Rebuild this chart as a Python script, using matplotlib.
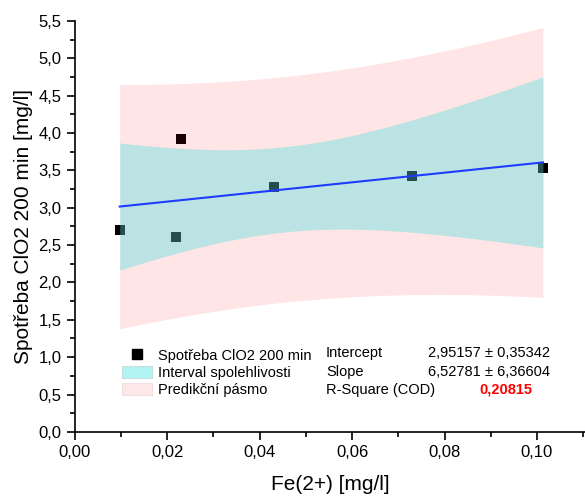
import numpy as np
import matplotlib.pyplot as plt
from matplotlib.patches import Patch
from matplotlib.lines import Line2D
from matplotlib.ticker import MultipleLocator, FuncFormatter

plt.rcParams['font.family'] = ['Liberation Sans', 'DejaVu Sans']

# Fe(2+) vs. ClO2 consumption after 200 min
fe2 = np.array([0.0097, 0.0229, 0.0219, 0.0431, 0.0730, 0.1013])
clo2 = np.array([2.70, 3.92, 2.61, 3.28, 3.43, 3.53])

fit_labels = ["Intercept", "Slope", "R-Square (COD)"]
fit_values = ["2,95157 \u00b1 0,35342", "6,52781 \u00b1 6,36604", "0,20815"]

T95 = 2.7764451  # Student t, 95 %, 4 dof

# linear fit with confidence / prediction bands
n = len(fe2)
slope, intercept = np.polyfit(fe2, clo2, 1)
resid = clo2 - (intercept + slope * fe2)
s = np.sqrt(np.sum(resid ** 2) / (n - 2))
sxx = np.sum((fe2 - fe2.mean()) ** 2)
xx = np.linspace(fe2.min(), fe2.max(), 200)
yy = intercept + slope * xx
conf = T95 * s * np.sqrt(1 / n + (xx - fe2.mean()) ** 2 / sxx)
pred = T95 * s * np.sqrt(1 + 1 / n + (xx - fe2.mean()) ** 2 / sxx)

fig = plt.figure(figsize=(5.85, 4.97), dpi=100)
ax = fig.add_axes([0.128, 0.131, 0.872, 0.827])

ax.scatter(fe2, clo2, marker='s', s=42, color='black', zorder=1, linewidths=0)
ax.fill_between(xx, yy - pred, yy + pred, color='red', alpha=0.1, lw=0, zorder=2)
ax.fill_between(xx, yy - conf, yy + conf, color='#40e0e0', alpha=0.35, lw=0, zorder=3)
ax.plot(xx, yy, color='#1e3cff', lw=1.5, zorder=4)

ax.set_xlim(0, 0.1104)
ax.set_ylim(0, 5.5)
ax.xaxis.set_major_locator(MultipleLocator(0.02))
ax.xaxis.set_minor_locator(MultipleLocator(0.01))
ax.yaxis.set_major_locator(MultipleLocator(0.5))
ax.yaxis.set_minor_locator(MultipleLocator(0.25))
ax.xaxis.set_major_formatter(FuncFormatter(lambda v, p: f"{v:.2f}".replace('.', ',')))
ax.yaxis.set_major_formatter(FuncFormatter(lambda v, p: f"{v:.1f}".replace('.', ',')))
ax.tick_params(which='major', length=6, width=1.2, labelsize=12, pad=3.5)
ax.tick_params(which='minor', length=3.5, width=1.2)
for side in ('top', 'right'):
    ax.spines[side].set_visible(False)
for side in ('left', 'bottom'):
    ax.spines[side].set_linewidth(1.2)

ax.set_xlabel("Fe(2+) [mg/l]", fontsize=15, labelpad=10.5)
ax.set_ylabel("Spotřeba ClO2 200 min [mg/l]", fontsize=15, labelpad=4)

handles = [
    Line2D([], [], marker='s', color='black', ls='none', markersize=6.5),
    Patch(facecolor='#b0f4f4', edgecolor='#c8dede', lw=0.8),
    Patch(facecolor='#fde8e8', edgecolor='#f4dede', lw=0.8),
]
labels = ["Spotřeba ClO2 200 min", "Interval spolehlivosti", "Predikční pásmo"]
ax.legend(handles, labels, loc='upper left', bbox_to_anchor=(0.092, 0.203),
          frameon=False, fontsize=10.5, handlelength=2.1, handleheight=0.95,
          labelspacing=0.2, handletextpad=0.35, borderaxespad=0, borderpad=0)

for i, (lab, val) in enumerate(zip(fit_labels, fit_values)):
    y = 0.191 - i * 0.0445
    ax.text(0.492, y, lab, transform=ax.transAxes, fontsize=10.5, va='center', ha='left')
    if i == 2:
        ax.text(0.896, y, val, transform=ax.transAxes, fontsize=10.5, va='center',
                ha='right', color='red', fontweight='bold')
    else:
        ax.text(0.931, y, val, transform=ax.transAxes, fontsize=10.5, va='center', ha='right')

fig.savefig("out.png", dpi=100)
